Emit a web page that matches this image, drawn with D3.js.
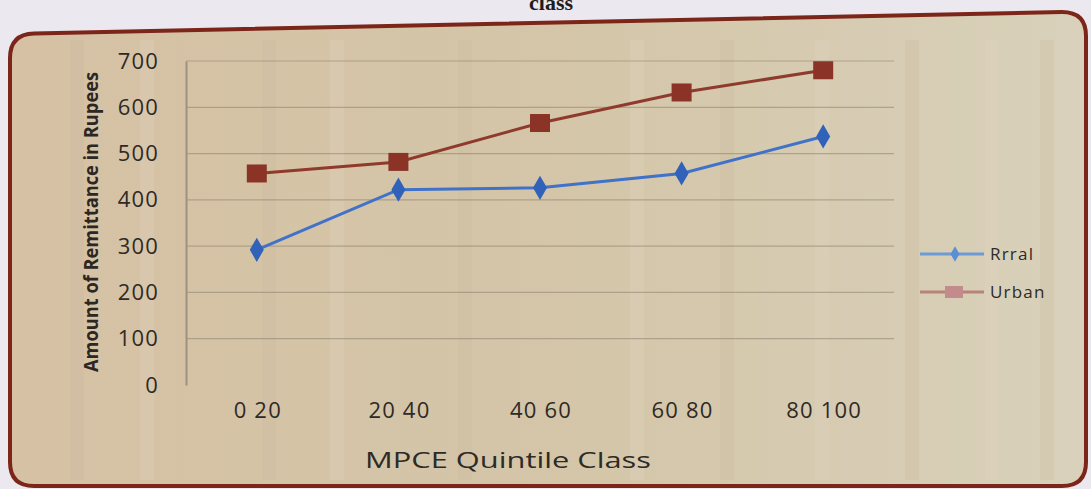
<!DOCTYPE html>
<html lang="en">
<head>
    <meta charset="UTF-8">
    <title>Remittance by MPCE quintile class</title>
    <script src="https://d3js.org/d3.v7.min.js"></script>
    <style>
        body { margin: 0; background: #ebe8ef; }
        svg { display: block; }
        .tick-label { font-family: "Open Sans", sans-serif; font-size: 22px; letter-spacing: 1.2px; fill: #2e2a26; }
        .legend-label { font-family: "Open Sans", sans-serif; font-size: 17px; letter-spacing: 1.2px; fill: #2e2a26; }
    </style>
</head>
<body>
    <svg id="chart" width="1091" height="489"></svg>

    <script>
        // data
        const categories = ["0 20", "20 40", "40 60", "60 80", "80 100"];
        const rural = [292, 422, 426, 457, 537];
        const urban = [457, 482, 566, 632, 680];
        const yTicks = [0, 100, 200, 300, 400, 500, 600, 700];
        const seriesNames = ["Rrral", "Urban"];

        const svg = d3.select("#chart");

        // parchment gradient
        const defs = svg.append("defs");
        const grad = defs.append("linearGradient").attr("id", "paper")
            .attr("x1", "0%").attr("x2", "100%").attr("y1", "0%").attr("y2", "0%");
        grad.append("stop").attr("offset", "0%").attr("stop-color", "#d6c1a4");
        grad.append("stop").attr("offset", "55%").attr("stop-color", "#d4c6a9");
        grad.append("stop").attr("offset", "100%").attr("stop-color", "#d9d1bb");

        // the frame, top edge slightly tilted like the photo
        const L = 10, R = 1086, TL = 34, TR = 12, B = 486, rad = 24;
        const framePath = `M${L},${TL + rad} Q${L},${TL} ${L + rad},${TL - 0.6}
            L${R - rad},${TR} Q${R},${TR} ${R},${TR + rad}
            L${R},${B - rad} Q${R},${B} ${R - rad},${B}
            L${L + rad},${B} Q${L},${B} ${L},${B - rad} Z`;
        svg.append("path").attr("d", framePath)
            .attr("fill", "url(#paper)")
            .attr("stroke", "#7c2519").attr("stroke-width", 4);

        // a few soft vertical streaks for the paper feel
        const streaks = [70, 140, 262, 330, 458, 630, 720, 815, 905, 985, 1040];
        svg.append("g").selectAll("rect").data(streaks).join("rect")
            .attr("x", d => d).attr("y", 40).attr("width", 14).attr("height", 440)
            .attr("fill", (d, i) => i % 2 ? "#e2d8c4" : "#c9b79c").attr("opacity", 0.25);

        // title, cut off at the top like in the photo
        svg.append("text").attr("x", 551).attr("y", 10)
            .attr("text-anchor", "middle")
            .style("font-family", "'Liberation Serif', serif").style("font-weight", "bold")
            .style("font-size", "22px").style("fill", "#1e1c1c")
            .text("class");

        const x = d3.scaleBand().domain(categories).range([186, 894]);
        const y = d3.scaleLinear().domain([0, 700]).range([385, 61]);

        // gridlines
        svg.append("g").selectAll("line").data(yTicks.filter(d => d > 0)).join("line")
            .attr("x1", 186).attr("x2", 894)
            .attr("y1", d => y(d)).attr("y2", d => y(d))
            .attr("stroke", "#8c8372").attr("stroke-width", 1.2).attr("opacity", 0.55);

        // y axis
        const yAxis = svg.append("g").attr("transform", "translate(186,0)")
            .call(d3.axisLeft(y).tickValues(yTicks).tickSize(0).tickPadding(27));
        yAxis.select(".domain").attr("stroke", "#9a9282").attr("stroke-width", 2);
        yAxis.selectAll("text").attr("class", "tick-label").attr("fill", null);

        // x axis labels
        const xAxis = svg.append("g").attr("transform", "translate(0,385)")
            .call(d3.axisBottom(x).tickSize(0).tickPadding(17));
        xAxis.select(".domain").remove();
        xAxis.selectAll("text").attr("class", "tick-label").attr("fill", null)
            .attr("dx", "1px");

        // axis titles
        svg.append("text")
            .attr("transform", "translate(98,222) rotate(-90)")
            .attr("text-anchor", "middle")
            .attr("textLength", 300).attr("lengthAdjust", "spacingAndGlyphs")
            .style("font-family", "'Open Sans', sans-serif").style("font-weight", "bold")
            .style("font-size", "19px").style("fill", "#2b2723")
            .text("Amount of Remittance in Rupees");

        svg.append("text").attr("x", 508).attr("y", 468)
            .attr("text-anchor", "middle")
            .attr("textLength", 286).attr("lengthAdjust", "spacingAndGlyphs")
            .style("font-family", "'Open Sans', sans-serif").style("font-size", "21px")
            .style("fill", "#2e2a26")
            .text("MPCE Quintile Class");

        // lines
        const cx = d => x(d) + x.bandwidth() / 2;
        const line = d3.line().x((d, i) => cx(categories[i])).y(d => y(d));

        svg.append("path").datum(urban).attr("d", line)
            .attr("fill", "none").attr("stroke", "#8f3a2c").attr("stroke-width", 3);
        svg.append("path").datum(rural).attr("d", line)
            .attr("fill", "none").attr("stroke", "#3f72c8").attr("stroke-width", 3);

        // markers
        svg.append("g").selectAll("rect").data(urban).join("rect")
            .attr("x", (d, i) => cx(categories[i]) - 10).attr("y", d => y(d) - 9)
            .attr("width", 20).attr("height", 18)
            .attr("fill", "#8b3326");

        const diamond = d3.symbol().type(d3.symbolDiamond).size(170);
        svg.append("g").selectAll("path").data(rural).join("path")
            .attr("d", diamond)
            .attr("transform", (d, i) => `translate(${cx(categories[i])},${y(d)})`)
            .attr("fill", "#2f62b8");

        // legend
        const legendY = [254, 292];
        const legendColors = ["#6c9bd6", "#b7837a"];
        const legend = svg.append("g").selectAll("g").data(seriesNames).join("g")
            .attr("transform", (d, i) => `translate(0,${legendY[i]})`);
        legend.append("line").attr("x1", 920).attr("x2", 984).attr("y1", 0).attr("y2", 0)
            .attr("stroke", (d, i) => legendColors[i]).attr("stroke-width", 3);
        legend.filter((d, i) => i === 0).append("path")
            .attr("d", d3.symbol().type(d3.symbolDiamond).size(70))
            .attr("transform", "translate(955,0)").attr("fill", "#5b8fd4");
        legend.filter((d, i) => i === 1).append("rect")
            .attr("x", 945).attr("y", -6).attr("width", 18).attr("height", 12)
            .attr("fill", "#c48b8c");
        legend.append("text").attr("class", "legend-label")
            .attr("x", 990).attr("y", 0).attr("dy", "0.35em")
            .text(d => d);
    </script>
</body>
</html>
